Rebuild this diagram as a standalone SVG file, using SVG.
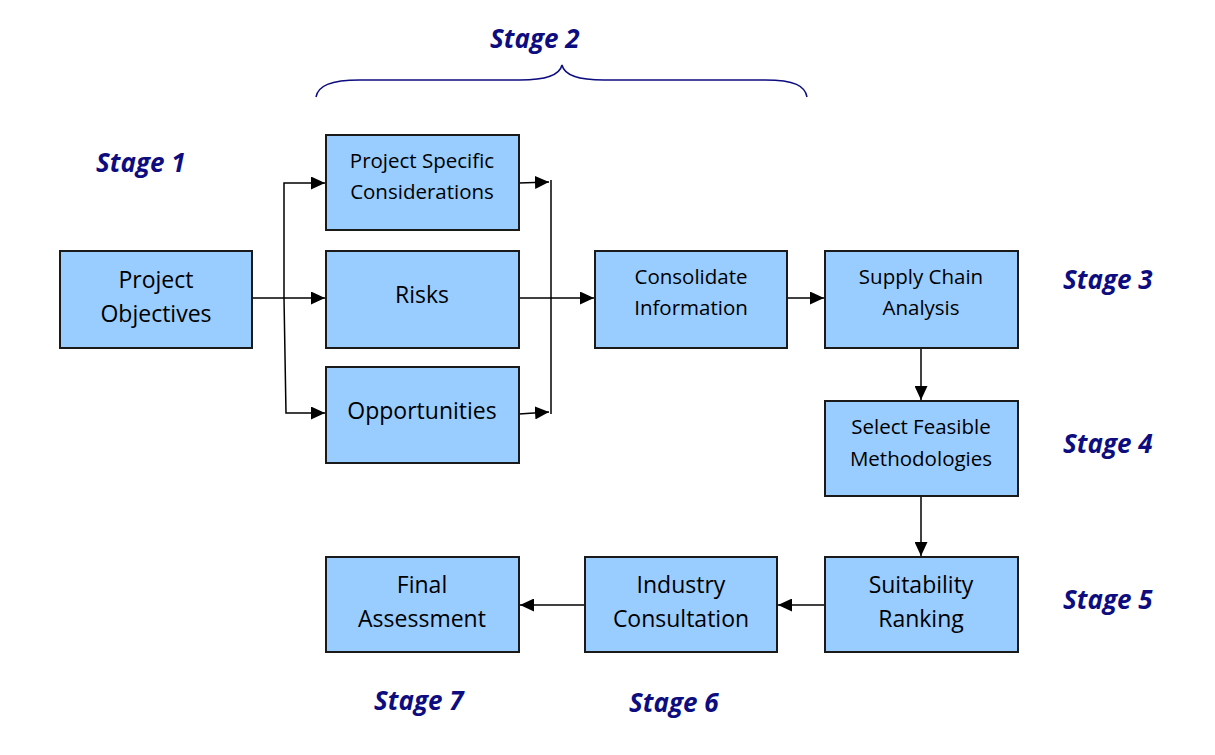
<svg xmlns="http://www.w3.org/2000/svg" width="1215" height="755" viewBox="0 0 1215 755">
<style>
.box{fill:#99ccff;stroke:#1a1a1a;stroke-width:2}
.t{font-family:"Open Sans","Noto Sans",sans-serif;fill:#000;text-anchor:middle}
.s{font-size:20.5px}
.l{font-size:23px}
.st{font-family:"Open Sans","Noto Sans",sans-serif;font-size:26px;font-weight:bold;font-style:italic;fill:#0d0d80}
.c{fill:none;stroke:#000;stroke-width:1.5}
</style>
<defs>
<marker id="a" viewBox="0 0 10 10" refX="10" refY="5" markerWidth="14" markerHeight="13" markerUnits="userSpaceOnUse" orient="auto" preserveAspectRatio="none">
<path d="M0,0 L10,5 L0,10 z" fill="#000"/>
</marker>
</defs>
<rect width="1215" height="755" fill="#fff"/>
<g id="connectors">
<path class="c" d="M252,298 L325,298" marker-end="url(#a)"/>
<path class="c" d="M284,298 L284,183 L325,183" marker-end="url(#a)"/>
<path class="c" d="M284,298 L286,413 L325,413" marker-end="url(#a)"/>
<path class="c" d="M519,183 L549,182" marker-end="url(#a)"/>
<path class="c" d="M519,414 L549,412" marker-end="url(#a)"/>
<path class="c" d="M551,180 L551,414"/>
<path class="c" d="M519,298 L594,298" marker-end="url(#a)"/>
<path class="c" d="M787,298 L824,298" marker-end="url(#a)"/>
<path class="c" d="M921,348 L921,400" marker-end="url(#a)"/>
<path class="c" d="M921,496 L921,556" marker-end="url(#a)"/>
<path class="c" d="M825,605 L778,605" marker-end="url(#a)"/>
<path class="c" d="M585,605 L520,605" marker-end="url(#a)"/>
</g>
<g id="brace">
<path d="M316,97 C318,86 330,80 360,80 L520,80 C548,80 560,74 562,65 C564,74 576,80 604,80 L765,80 C795,80 805,86 807,97" fill="none" stroke="#0d0d80" stroke-width="1.5"/>
</g>
<g id="stage-labels">
<text class="st" x="96" y="172">Stage 1</text>
<text class="st" x="490" y="48">Stage 2</text>
<text class="st" x="1063" y="289">Stage 3</text>
<text class="st" x="1063" y="453">Stage 4</text>
<text class="st" x="1063" y="609">Stage 5</text>
<text class="st" x="629" y="712">Stage 6</text>
<text class="st" x="374" y="710">Stage 7</text>
</g>
<g id="project-objectives">
<rect class="box" x="60" y="251" width="192" height="97"/>
<text class="t l" x="156" y="288">Project</text>
<text class="t l" x="156" y="322">Objectives</text>
</g>
<g id="project-specific">
<rect class="box" x="326" y="135" width="193" height="95"/>
<text class="t s" x="422" y="168">Project Specific</text>
<text class="t s" x="422" y="199">Considerations</text>
</g>
<g id="risks">
<rect class="box" x="326" y="251" width="193" height="97"/>
<text class="t l" x="422" y="303">Risks</text>
</g>
<g id="opportunities">
<rect class="box" x="326" y="367" width="193" height="96"/>
<text class="t l" x="422" y="419">Opportunities</text>
</g>
<g id="consolidate">
<rect class="box" x="595" y="251" width="192" height="97"/>
<text class="t s" x="691" y="284">Consolidate</text>
<text class="t s" x="691" y="315">Information</text>
</g>
<g id="supply-chain">
<rect class="box" x="825" y="251" width="193" height="97"/>
<text class="t s" x="921" y="284">Supply Chain</text>
<text class="t s" x="921" y="315">Analysis</text>
</g>
<g id="select-feasible">
<rect class="box" x="825" y="401" width="193" height="95"/>
<text class="t s" x="921" y="434">Select Feasible</text>
<text class="t s" x="921" y="466">Methodologies</text>
</g>
<g id="suitability">
<rect class="box" x="825" y="557" width="193" height="95"/>
<text class="t l" x="921" y="593">Suitability</text>
<text class="t l" x="921" y="627">Ranking</text>
</g>
<g id="industry">
<rect class="box" x="585" y="557" width="192" height="95"/>
<text class="t l" x="681" y="593">Industry</text>
<text class="t l" x="681" y="627">Consultation</text>
</g>
<g id="final">
<rect class="box" x="326" y="557" width="193" height="95"/>
<text class="t l" x="422" y="593">Final</text>
<text class="t l" x="422" y="627">Assessment</text>
</g>
</svg>
